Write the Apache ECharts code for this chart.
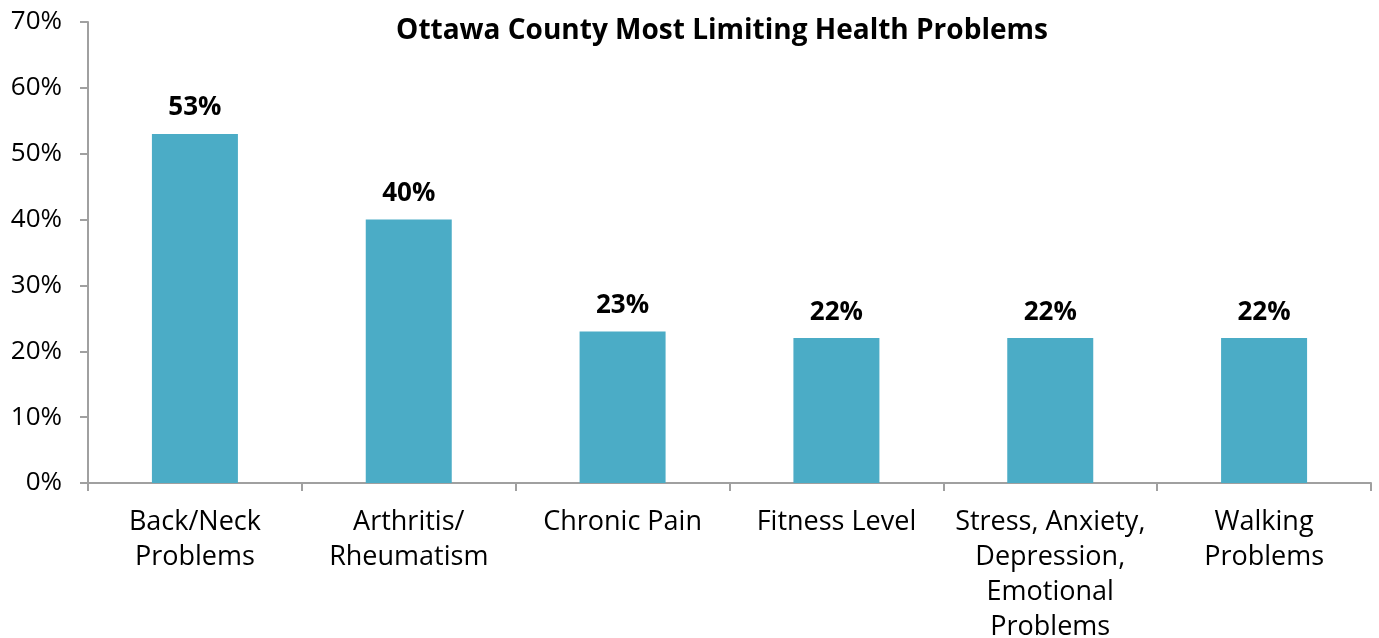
<!DOCTYPE html>
<html>
<head>
<meta charset="utf-8">
<script src="https://cdn.jsdelivr.net/npm/echarts@6/dist/echarts.min.js"></script>
<style>
  html, body { margin: 0; padding: 0; background: #fff; overflow: hidden; }
  #chart { width: 1379px; height: 638px; }
</style>
</head>
<body>
<div id="chart"></div>
<script>
// Categories and percentages for the bar chart
const categories = [
  'Back/Neck\nProblems',
  'Arthritis/\nRheumatism',
  'Chronic Pain',
  'Fitness Level',
  'Stress, Anxiety,\nDepression,\nEmotional\nProblems',
  'Walking\nProblems'
];
const values = [53, 40, 23, 22, 22, 22];
const yTicks = { min: 0, max: 70, interval: 10 };
const titleText = 'Ottawa County Most Limiting Health Problems';

const FONT = '"Open Sans", "Noto Sans", sans-serif';
const AXIS_GRAY = '#a0a0a0';
const chart = echarts.init(document.getElementById('chart'), null, { renderer: 'canvas' });

chart.setOption({
  animation: false,
  backgroundColor: '#ffffff',
  title: {
    text: titleText,
    left: 717,
    top: 12,
    textAlign: 'center',
    textStyle: { fontFamily: FONT, fontSize: 28, fontWeight: 'bold', color: '#000' }
  },
  grid: {
    left: 88, right: 8, top: 22, bottom: 155,
    containLabel: false,
    outerBoundsMode: 'none'
  },
  xAxis: {
    type: 'category',
    data: categories,
    axisLine: { lineStyle: { color: AXIS_GRAY, width: 2 } },
    axisTick: { show: true, alignWithLabel: false, length: 8, lineStyle: { color: AXIS_GRAY, width: 2 } },
    axisLabel: {
      interval: 0,
      margin: 22,
      fontFamily: FONT,
      fontSize: 27,
      lineHeight: 35,
      color: '#000'
    }
  },
  yAxis: {
    type: 'value',
    min: yTicks.min,
    max: yTicks.max,
    interval: yTicks.interval,
    splitLine: { show: false },
    axisLine: { show: true, lineStyle: { color: AXIS_GRAY, width: 2 } },
    axisTick: { show: true, length: 8, lineStyle: { color: AXIS_GRAY, width: 2 } },
    axisLabel: {
      margin: 26,
      fontFamily: FONT,
      fontSize: 26,
      color: '#000',
      formatter: v => v + '%'
    }
  },
  series: [{
    type: 'bar',
    data: values,
    barWidth: 86,
    itemStyle: { color: '#4BACC6' },
    label: {
      show: true,
      position: 'top',
      distance: 13,
      fontFamily: FONT,
      fontSize: 26,
      fontWeight: 'bold',
      color: '#000',
      formatter: p => p.value + '%'
    }
  }]
});
</script>
</body>
</html>
